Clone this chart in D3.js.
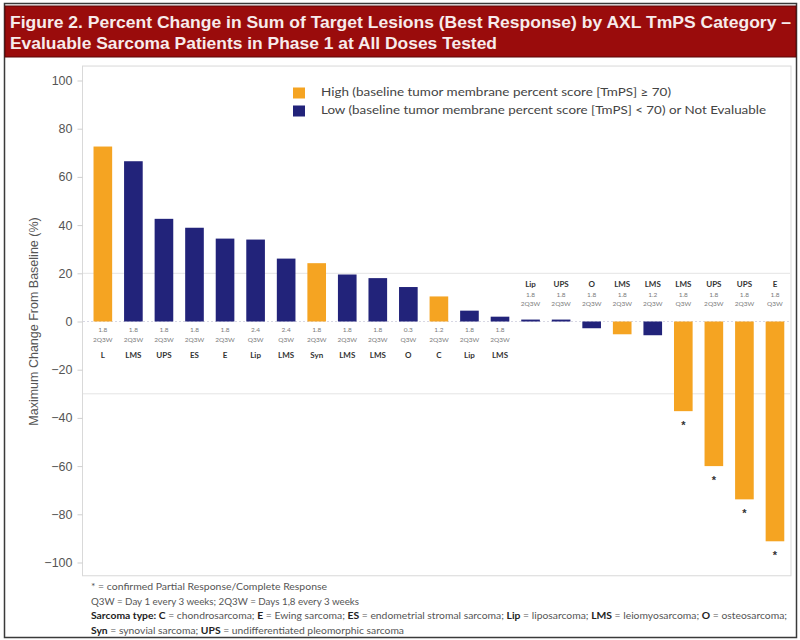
<!DOCTYPE html>
<html>
<head>
<meta charset="utf-8">
<script src="https://cdn.jsdelivr.net/npm/d3@7"></script>
<style>
  html, body { margin: 0; padding: 0; background: #fff; }
  svg { display: block; }
</style>
</head>
<body>
<svg id="chart" width="800" height="640"></svg>
<script>
// Best percent change in sum of target lesions, one bar per patient
const values = [72.6, 66.5, 42.6, 38.9, 34.4, 34.0, 26.1, 24.2, 19.5, 18.0, 14.3, 10.4,
                4.5, 2.0, 0.8, 0.8, -2.8, -5.3, -5.7, -37.2, -60.0, -73.8, -91.2];
// AXL TmPS category: H = high (>= 70), L = low / not evaluable
const category = ["H","L","L","L","L","L","L","H","L","L","L","H",
                  "L","L","L","L","L","H","L","H","H","H","H"];
const doses = ["1.8","1.8","1.8","1.8","1.8","2.4","2.4","1.8","1.8","1.8","0.3","1.2",
               "1.8","1.8","1.8","1.8","1.8","1.8","1.2","1.8","1.8","1.8","1.8"];
const schedules = ["2Q3W","2Q3W","2Q3W","2Q3W","2Q3W","Q3W","Q3W","2Q3W","2Q3W","2Q3W","Q3W","2Q3W",
                   "2Q3W","2Q3W","2Q3W","2Q3W","2Q3W","2Q3W","2Q3W","Q3W","2Q3W","2Q3W","Q3W"];
const sarcomaTypes = ["L","LMS","UPS","ES","E","Lip","LMS","Syn","LMS","LMS","O","C",
                      "Lip","LMS","Lip","UPS","O","LMS","LMS","LMS","UPS","UPS","E"];
// confirmed partial / complete response
const confirmed = [false,false,false,false,false,false,false,false,false,false,false,false,
                   false,false,false,false,false,false,false,true,true,true,true];
const yTicks = [100, 80, 60, 40, 20, 0, -20, -40, -60, -80, -100];
const refLines = [20, -30];
const legendItems = [
  { key: "H", label: "High (baseline tumor membrane percent score [TmPS] \u2265 70)" },
  { key: "L", label: "Low (baseline tumor membrane percent score [TmPS] < 70) or Not Evaluable" }
];
const colors = { H: "#F5A422", L: "#22237A" };

const svg = d3.select("#chart");

// page frame and title banner
svg.append("rect").attr("x", 0).attr("y", 0).attr("width", 800).attr("height", 640).attr("fill", "#fff");
svg.append("rect").attr("x", 4.5).attr("y", 3.5).attr("width", 792).attr("height", 634)
  .attr("fill", "none").attr("stroke", "#3a3a3a").attr("stroke-width", 1.5);
svg.append("rect").attr("x", 5).attr("y", 6).attr("width", 791).attr("height", 51)
  .attr("fill", "#9A0C0C").attr("stroke", "#5a0606").attr("stroke-width", 1);

const titleLines = [
  "Figure 2. Percent Change in Sum of Target Lesions (Best Response) by AXL TmPS Category \u2013",
  "Evaluable Sarcoma Patients in Phase 1 at All Doses Tested"
];
const titleWidths = [781, 487];
titleLines.forEach((t, i) => {
  svg.append("text")
    .attr("x", 10).attr("y", 28 + i * 21)
    .attr("font-family", "Liberation Sans, Arial, sans-serif")
    .attr("font-weight", "bold").attr("font-size", 17)
    .attr("fill", "#f7ebeb")
    .attr("textLength", titleWidths[i]).attr("lengthAdjust", "spacingAndGlyphs")
    .text(t);
});

// scales
const y = d3.scaleLinear().domain([-100, 100]).range([562.5, 80.5]);
const x = d3.scaleBand().domain(d3.range(values.length))
  .range([81.3, 796.5]).paddingInner(0.39).paddingOuter(0.4);

// plot frame
const frameTop = y(106), frameBottom = y(-105.5);
svg.append("rect").attr("x", 82.5).attr("y", frameTop).attr("width", 708.5)
  .attr("height", frameBottom - frameTop)
  .attr("fill", "none").attr("stroke", "#d9d9d9").attr("stroke-width", 1);

// reference lines
svg.selectAll(".ref").data(refLines).join("line")
  .attr("class", "ref")
  .attr("x1", 83).attr("x2", 790)
  .attr("y1", d => y(d)).attr("y2", d => y(d))
  .attr("stroke", "#e4e4e4").attr("stroke-width", 1);
svg.append("line").attr("x1", 83).attr("x2", 790)
  .attr("y1", y(0)).attr("y2", y(0))
  .attr("stroke", "#d8d8e4").attr("stroke-width", 1).attr("stroke-dasharray", "2,2");

// y axis
const yAxis = d3.axisLeft(y).tickValues(yTicks).tickSize(5).tickPadding(5).tickFormat(d3.format("d"));
const gy = svg.append("g").attr("transform", "translate(82.5,0)").call(yAxis);
gy.select(".domain").remove();
gy.selectAll(".tick line").attr("stroke", "#cfcfcf");
gy.selectAll(".tick text")
  .attr("font-family", "Liberation Sans, Arial, sans-serif")
  .attr("font-size", 12.5).attr("fill", "#555");

svg.append("text")
  .attr("transform", `translate(38,${y(0)}) rotate(-90)`)
  .attr("text-anchor", "middle")
  .attr("font-family", "Liberation Sans, Arial, sans-serif")
  .attr("font-size", 12.5).attr("fill", "#555")
  .text("Maximum Change From Baseline (%)");

// bars
svg.selectAll(".bar").data(values).join("rect")
  .attr("class", "bar")
  .attr("x", (d, i) => x(i))
  .attr("width", x.bandwidth())
  .attr("y", d => y(Math.max(0, d)))
  .attr("height", d => Math.abs(y(d) - y(0)))
  .attr("fill", (d, i) => colors[category[i]]);

// per-bar labels: below the baseline for clear growth, above it otherwise
const labelFont = "Lato, 'Open Sans', sans-serif";
values.forEach((v, i) => {
  const cx = x(i) + x.bandwidth() / 2;
  const rows = v > 1.5
    ? [{ t: doses[i], y: y(0) + 9, s: 6.5, w: "normal", c: "#7a7a7a" },
       { t: schedules[i], y: y(0) + 19, s: 6.5, w: "normal", c: "#7a7a7a" },
       { t: sarcomaTypes[i], y: y(0) + 34, s: 8, w: "bold", c: "#333" }]
    : [{ t: sarcomaTypes[i], y: y(0) - 37, s: 8, w: "bold", c: "#333" },
       { t: doses[i], y: y(0) - 26, s: 6.5, w: "normal", c: "#7a7a7a" },
       { t: schedules[i], y: y(0) - 17, s: 6.5, w: "normal", c: "#7a7a7a" }];
  rows.forEach(r => {
    svg.append("text")
      .attr("x", cx).attr("y", r.y)
      .attr("text-anchor", "middle").attr("dominant-baseline", "middle")
      .attr("font-family", labelFont).attr("font-size", r.s)
      .attr("font-weight", r.w).attr("fill", r.c)
      .text(r.t);
  });
  if (confirmed[i]) {
    svg.append("text")
      .attr("x", cx).attr("y", y(v) + 15)
      .attr("text-anchor", "middle").attr("dominant-baseline", "middle")
      .attr("font-family", "Liberation Sans, Arial, sans-serif")
      .attr("font-size", 11).attr("font-weight", "bold").attr("fill", "#333")
      .text("*");
  }
});

// legend
const legendWidths = [350, 445];
legendItems.forEach((item, i) => {
  const ly = 93 + i * 18;
  svg.append("rect").attr("x", 293).attr("y", ly - 5.5).attr("width", 12).attr("height", 11)
    .attr("fill", colors[item.key]);
  svg.append("text")
    .attr("x", 321).attr("y", ly).attr("dominant-baseline", "middle")
    .attr("font-family", labelFont).attr("font-size", 12).attr("fill", "#444")
    .attr("textLength", legendWidths[i]).attr("lengthAdjust", "spacingAndGlyphs")
    .text(item.label);
});

// footnotes
const notes = [
  { w: 236, parts: [["* = confirmed Partial Response/Complete Response", false]] },
  { w: 268, parts: [["Q3W = Day 1 every 3 weeks; 2Q3W = Days 1,8 every 3 weeks", false]] },
  { w: 696, parts: [["Sarcoma type: ", true], ["C", true], [" = chondrosarcoma; ", false], ["E", true],
      [" = Ewing sarcoma; ", false], ["ES", true], [" = endometrial stromal sarcoma; ", false],
      ["Lip", true], [" = liposarcoma; ", false], ["LMS", true], [" = leiomyosarcoma; ", false],
      ["O", true], [" = osteosarcoma;", false]] },
  { w: 313, parts: [["Syn", true], [" = synovial sarcoma; ", false], ["UPS", true],
      [" = undifferentiated pleomorphic sarcoma", false]] }
];
notes.forEach((n, i) => {
  const t = svg.append("text")
    .attr("x", 91).attr("y", 588 + i * 14.5).attr("dominant-baseline", "middle")
    .attr("font-family", labelFont).attr("font-size", 9.5).attr("fill", "#444")
    .attr("textLength", n.w).attr("lengthAdjust", "spacingAndGlyphs");
  n.parts.forEach(([s, b]) => {
    t.append("tspan").attr("font-weight", b ? "bold" : "normal")
      .attr("fill", b ? "#222" : "#555").text(s);
  });
});
</script>
</body>
</html>
